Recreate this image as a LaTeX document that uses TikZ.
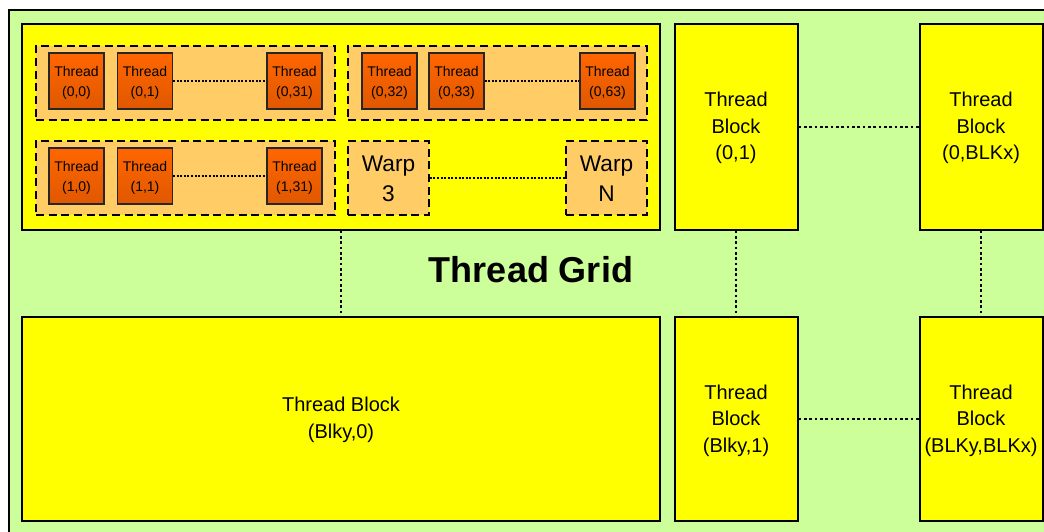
\documentclass[tikz,border=0pt]{standalone}
\usepackage{fontspec}
\setmainfont{Liberation Sans}
\definecolor{gridgreen}{RGB}{204,255,153}
\definecolor{blkyellow}{RGB}{255,255,0}
\definecolor{warpfill}{RGB}{255,204,102}
\definecolor{thrtop}{RGB}{255,102,0}
\definecolor{thrbot}{RGB}{224,88,0}
\tikzset{
  sz/.style 2 args={minimum width=#1*0.75pt, minimum height=#2*0.75pt},
  blockbox/.style={draw=black, line width=1.5pt, fill=blkyellow, inner sep=0pt, align=center},
  warpbox/.style={draw=black, line width=1.1pt, dash pattern=on 6pt off 3.5pt, fill=warpfill,
    inner sep=0pt, align=center},
  thrbox/.style={draw=black!85, line width=0.8pt, top color=thrtop, bottom color=thrbot,
    inner sep=0pt, align=center, sz={55}{56}},
  blab/.style={align=center, font=\fontsize{15}{20}\selectfont},
  wlab/.style={align=center, font=\fontsize{17}{22.5}\selectfont},
  tlab/.style={align=center, font=\fontsize{10.5}{15}\selectfont},
  link/.style={draw=black, line width=1.5pt, dash pattern=on 2.2pt off 1.8pt},
  tlink/.style={draw=black, line width=1.1pt, dash pattern=on 1.5pt off 1.2pt},
}
\begin{document}
\begin{tikzpicture}[x=0.75pt, y=-0.75pt]
\useasboundingbox (0,0) rectangle (1044,531);
\fill[white] (0,0) rectangle (1044,531);
\draw[line width=1.5pt, fill=gridgreen] (9,10) rectangle (1050,540);

% thread blocks
\node[blockbox, sz={638}{205}] (b00) at (341,127) {};
\node[blockbox, sz={123}{205}] (b01) at (736,127) {};
\node[blockbox, sz={123}{205}] (b0x) at (981,127) {};
\node[blockbox, sz={638}{204}] (by0) at (341,419) {};
\node[blockbox, sz={123}{204}] (by1) at (736,419) {};
\node[blockbox, sz={123}{204}] (byx) at (981,419) {};
\node[blab] (lb01) at (736,128) {Thread\\Block\\(0,1)};
\node[blab] (lb0x) at (981,128) {Thread\\Block\\(0,BLKx)};
\node[blab] (lby0) at (341,420) {Thread Block\\(Blky,0)};
\node[blab] (lby1) at (736,420.5) {Thread\\Block\\(Blky,1)};
\node[blab] (lbyx) at (981,420.5) {Thread\\Block\\(BLKy,BLKx)};

\node[font=\bfseries\fontsize{27}{32}\selectfont] (title) at (531,270) {Thread Grid};

% warps
\node[warpbox, sz={299}{74}] (w0) at (185.5,83) {};
\node[warpbox, sz={299}{74}] (w1) at (497.5,83) {};
\node[warpbox, sz={299}{74}] (w2) at (185.5,178) {};
\node[warpbox, sz={81}{74}] (w3) at (388.5,178) {};
\node[warpbox, sz={81}{74}] (wn) at (606.5,178) {};
\node[wlab] (lw3) at (388.5,179) {Warp\\3};
\node[wlab] (lwn) at (606.5,179) {Warp\\N};

% threads
\node[thrbox] (t00) at (76.5,81) {};
\node[thrbox] (t01) at (145,81) {};
\node[thrbox] (t031) at (294.5,81) {};
\node[thrbox] (t032) at (389.5,81) {};
\node[thrbox] (t033) at (456.5,81) {};
\node[thrbox] (t063) at (607.5,81) {};
\node[thrbox] (t10) at (76.5,176) {};
\node[thrbox] (t11) at (145,176) {};
\node[thrbox] (t131) at (294.5,176) {};
\node[tlab] (l00) at ([yshift=-1.5pt]t00) {Thread\\(0,0)};
\node[tlab] (l01) at ([yshift=-1.5pt]t01) {Thread\\(0,1)};
\node[tlab] (l031) at ([yshift=-1.5pt]t031) {Thread\\(0,31)};
\node[tlab] (l032) at ([yshift=-1.5pt]t032) {Thread\\(0,32)};
\node[tlab] (l033) at ([yshift=-1.5pt]t033) {Thread\\(0,33)};
\node[tlab] (l063) at ([yshift=-1.5pt]t063) {Thread\\(0,63)};
\node[tlab] (l10) at ([yshift=-1.5pt]t10) {Thread\\(1,0)};
\node[tlab] (l11) at ([yshift=-1.5pt]t11) {Thread\\(1,1)};
\node[tlab] (l131) at ([yshift=-1.5pt]t131) {Thread\\(1,31)};

% links
\draw[tlink] (t01) -- (t031);
\draw[tlink] (t033) -- (t063);
\draw[tlink] (t11) -- (t131);
\draw[tlink] (w3) -- (wn);
\draw[link] (b01) -- (b0x);
\draw[link] (by1) -- (byx);
\draw[link] (b00) -- (by0);
\draw[link] (b01) -- (by1);
\draw[link] (b0x) -- (byx);
\end{tikzpicture}
\end{document}
